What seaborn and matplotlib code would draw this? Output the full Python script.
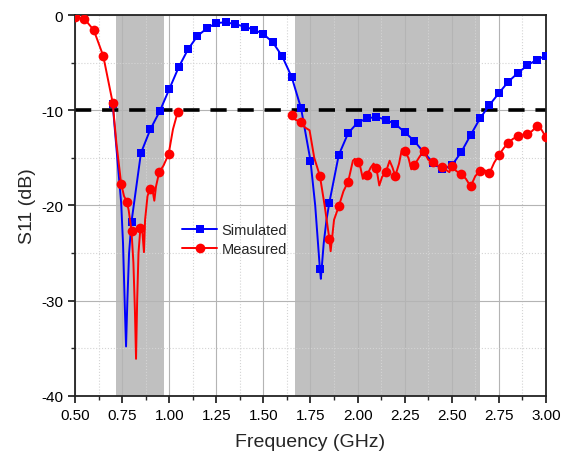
import numpy as np
import pandas as pd
import matplotlib
matplotlib.use('Agg')
import matplotlib.pyplot as plt
import seaborn as sns
from matplotlib.lines import Line2D
from matplotlib.ticker import MultipleLocator, FormatStrFormatter

# Simulated S11 (line points; markers sit on the 0.05 GHz grid)
sim_f = [0.70, 0.72, 0.745, 0.755, 0.765, 0.771, 0.778, 0.787, 0.80, 0.85, 0.90, 0.95,
         1.00, 1.05, 1.10, 1.15, 1.20, 1.25, 1.30, 1.35, 1.40, 1.45, 1.50, 1.55, 1.60,
         1.65, 1.70, 1.75, 1.775, 1.80, 1.805, 1.82, 1.835, 1.85, 1.90, 1.95, 2.00, 2.05,
         2.10, 2.15, 2.20, 2.25, 2.30, 2.35, 2.40, 2.45, 2.50, 2.55, 2.60, 2.65, 2.70,
         2.75, 2.80, 2.85, 2.90, 2.95, 3.00]
sim_db = [-9.3, -14.0, -19.7, -24.0, -31.0, -34.8, -30.0, -25.0, -21.7, -14.5, -12.0, -10.1,
          -7.8, -5.5, -3.6, -2.2, -1.4, -0.84, -0.77, -0.95, -1.23, -1.54, -2.0, -2.87, -4.34,
          -6.5, -9.8, -15.3, -20.0, -26.7, -27.7, -24.0, -21.5, -19.7, -14.7, -12.4, -11.3, -10.85,
          -10.7, -11.0, -11.45, -12.3, -13.2, -14.4, -15.5, -16.2, -15.8, -14.4, -12.6, -10.85, -9.45,
          -8.2, -7.0, -6.1, -5.3, -4.7, -4.27]

# Measured S11, low band segment
meas1_f = [0.50, 0.55, 0.60, 0.65, 0.70, 0.72, 0.745, 0.76, 0.775, 0.785, 0.80, 0.81,
           0.818, 0.824, 0.83, 0.837, 0.847, 0.857, 0.866, 0.872, 0.885, 0.898, 0.91,
           0.921, 0.93, 0.947, 0.97, 0.997, 1.02, 1.045]
meas1_db = [-0.24, -0.4, -1.6, -4.3, -9.2, -13.5, -17.7, -19.0, -19.6, -20.5, -22.7, -26.0,
            -31.0, -36.1, -30.0, -25.0, -22.4, -22.6, -24.9, -21.5, -19.0, -18.3, -18.2,
            -19.5, -18.0, -16.5, -15.8, -14.6, -12.0, -10.2]
meas1_marks = [0.50, 0.55, 0.60, 0.65, 0.70, 0.745, 0.775, 0.80, 0.847, 0.898, 0.947, 0.997, 1.045]

# Measured S11, high band segment
meas2_f = [1.65, 1.67, 1.70, 1.72, 1.745, 1.77, 1.80, 1.825, 1.85, 1.857, 1.875, 1.90,
           1.925, 1.95, 1.975, 1.985, 2.00, 2.015, 2.028, 2.05, 2.07, 2.085, 2.10, 2.115,
           2.13, 2.15, 2.17, 2.185, 2.20, 2.22, 2.235, 2.25, 2.27, 2.285, 2.30, 2.325, 2.35,
           2.375, 2.40, 2.425, 2.45, 2.487, 2.50, 2.525, 2.55, 2.575, 2.60, 2.625, 2.65,
           2.675, 2.70, 2.725, 2.75, 2.775, 2.80, 2.825, 2.85, 2.875, 2.90, 2.925, 2.95,
           2.975, 3.00]
meas2_db = [-10.5, -11.0, -11.2, -11.8, -12.1, -15.0, -16.9, -20.0, -23.5, -24.8, -21.5, -20.1,
            -18.5, -17.5, -15.3, -15.1, -15.4, -16.0, -17.2, -16.8, -16.0, -15.6, -16.1, -17.9,
            -17.0, -16.5, -15.3, -16.0, -16.9, -15.6, -14.1, -14.3, -15.0, -16.2, -15.8, -15.0, -14.25,
            -15.2, -15.4, -15.8, -16.0, -16.5, -15.9, -16.4, -16.7, -17.2, -18.0, -16.9, -16.4,
            -16.3, -16.6, -15.5, -14.7, -14.0, -13.4, -13.0, -12.75, -12.6, -12.5, -12.2, -11.7,
            -12.0, -12.85]

bands = [(0.72, 0.97), (1.67, 2.65)]
threshold = -10

sns.set_theme(style='ticks')
plt.rcParams['font.family'] = ['Liberation Sans', 'DejaVu Sans']
plt.rcParams['axes.unicode_minus'] = False

fig = plt.figure(figsize=(5.63, 4.6), dpi=100)
ax = fig.add_axes([0.1332, 0.137, 0.8366, 0.8282])

for lo, hi in bands:
    ax.axvspan(lo, hi, color='#c0c0c0', lw=0, zorder=0.2)

ax.axhline(threshold, color='black', lw=2.6, dashes=(4.5, 3), zorder=1.5)

sim = pd.DataFrame({'f': sim_f, 'db': sim_db})
sim_every = [i for i, f in enumerate(sim_f) if abs(f * 20 - round(f * 20)) < 1e-6]
sns.lineplot(data=sim, x='f', y='db', ax=ax, color='#0000ff', lw=1.4, sort=False,
             estimator=None, marker='s', markersize=6, markeredgewidth=0,
             markevery=sim_every, zorder=3)

m1 = pd.DataFrame({'f': meas1_f, 'db': meas1_db})
m1_every = [meas1_f.index(f) for f in meas1_marks]
sns.lineplot(data=m1, x='f', y='db', ax=ax, color='#ff0000', lw=1.4, sort=False,
             estimator=None, marker='o', markersize=7, markeredgewidth=0,
             markevery=m1_every, zorder=4)

m2 = pd.DataFrame({'f': meas2_f, 'db': meas2_db})
m2_every = [i for i, f in enumerate(meas2_f) if abs(f * 20 - round(f * 20)) < 1e-6]
sns.lineplot(data=m2, x='f', y='db', ax=ax, color='#ff0000', lw=1.4, sort=False,
             estimator=None, marker='o', markersize=7, markeredgewidth=0,
             markevery=m2_every, zorder=4)

ax.set_xlim(0.5, 3.0)
ax.set_ylim(-40, 0)
ax.xaxis.set_major_locator(MultipleLocator(0.25))
ax.xaxis.set_minor_locator(MultipleLocator(0.125))
ax.yaxis.set_major_locator(MultipleLocator(10))
ax.yaxis.set_minor_locator(MultipleLocator(5))
ax.xaxis.set_major_formatter(FormatStrFormatter('%.2f'))

ax.set_axisbelow(True)
ax.grid(which='major', color='#b4b4b4', lw=0.8, ls='-')
ax.grid(which='minor', color='#d4d4d4', lw=0.8, ls=':')

ax.tick_params(which='major', direction='out', length=5, width=1.1, labelsize=11,
               colors='black', top=False, right=False)
ax.tick_params(which='minor', direction='out', length=3, width=1.0, top=False, right=False)
for s in ax.spines.values():
    s.set_visible(True)
    s.set_color('#222222')
    s.set_linewidth(1.3)

ax.set_xlabel('Frequency (GHz)', fontsize=14, labelpad=8)
ax.set_ylabel('S11 (dB)', fontsize=14, labelpad=4)

handles = [Line2D([], [], color='#0000ff', lw=1.4, marker='s', markersize=6, markeredgewidth=0),
           Line2D([], [], color='#ff0000', lw=1.4, marker='o', markersize=7, markeredgewidth=0)]
ax.legend(handles, ['Simulated', 'Measured'], loc='center left', bbox_to_anchor=(0.2, 0.41),
          frameon=False, fontsize=10.5, handlelength=2.4, handletextpad=0.3, labelspacing=0.35)

fig.savefig('out.png', dpi=100)
